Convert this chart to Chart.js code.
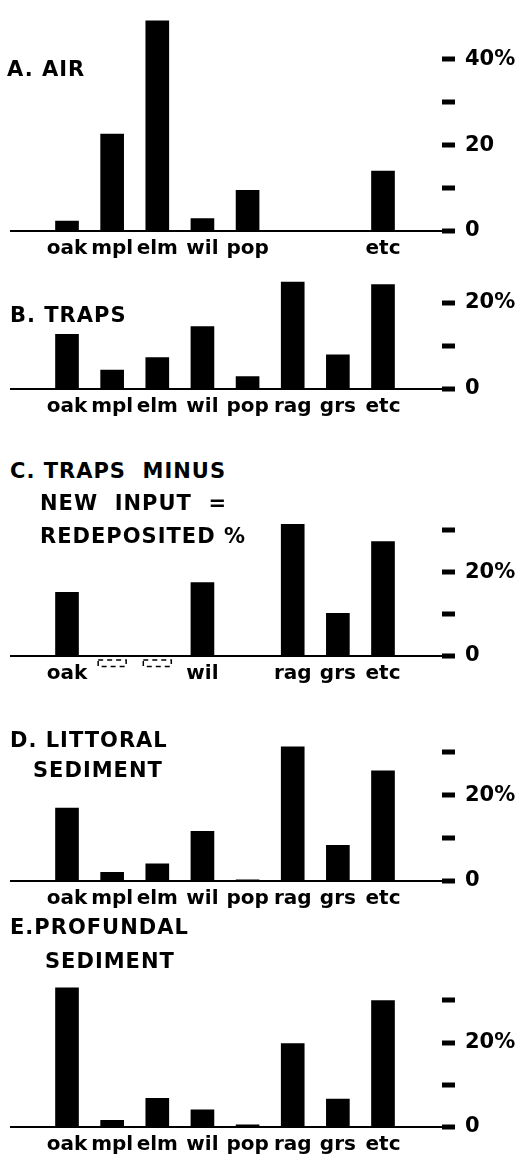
<!DOCTYPE html>
<html>
<head>
<meta charset="utf-8">
<script src="https://cdn.jsdelivr.net/npm/chart.js@4.4.1/dist/chart.umd.min.js"></script>
<style>
  body { margin: 0; background: #fff; }
  #page { position: relative; width: 524px; height: 1156px; overflow: hidden; }
  #page canvas { position: absolute; left: 0; }
  .ttl {
    position: absolute;
    font: bold 21px 'DejaVu Sans', sans-serif;
    line-height: 21px;
    letter-spacing: 1px;
    color: #000;
    white-space: nowrap;
  }
</style>
</head>
<body>
<div id="page">
  <canvas id="chartA"></canvas>
  <canvas id="chartB"></canvas>
  <canvas id="chartC"></canvas>
  <canvas id="chartD"></canvas>
  <canvas id="chartE"></canvas>

  <div class="ttl" style="left:7px;top:59px">A. AIR</div>
  <div class="ttl" style="left:10px;top:305px">B. TRAPS</div>
  <div class="ttl" style="left:10px;top:461px">C. TRAPS&nbsp; MINUS</div>
  <div class="ttl" style="left:40px;top:493px">NEW&nbsp; INPUT&nbsp; =</div>
  <div class="ttl" style="left:40px;top:526px">REDEPOSITED %</div>
  <div class="ttl" style="left:10px;top:730px">D. LITTORAL</div>
  <div class="ttl" style="left:33px;top:760px">SEDIMENT</div>
  <div class="ttl" style="left:10px;top:917px">E.PROFUNDAL</div>
  <div class="ttl" style="left:45px;top:951px">SEDIMENT</div>
</div>

<script>
// Pollen types, same order in every panel
const categories = ['oak', 'mpl', 'elm', 'wil', 'pop', 'rag', 'grs', 'etc'];

// Percentages per panel (null = no bar)
const airValues = [2.3, 22.6, 49, 2.9, 9.5, null, null, 14];
const trapValues = [12.7, 4.4, 7.3, 14.5, 2.9, 24.8, 7.9, 24.2];
const redepositedValues = [15.2, null, null, 17.5, null, 31.4, 10.2, 27.3];
const redepositedDeficit = [null, -2.5, -2.5, null, null, null, null, null];
const littoralValues = [17.0, 2.0, 4.0, 11.6, 0.3, 31.3, 8.3, 25.7];
const profundalValues = [33.0, 1.6, 6.8, 4.1, 0.5, 19.8, 6.6, 30.0];

// Category labels shown under each panel
const airLabels = ['oak', 'mpl', 'elm', 'wil', 'pop', '', '', 'etc'];
const redepositedLabels = ['oak', '', '', 'wil', '', 'rag', 'grs', 'etc'];

// Right-hand axis ticks
const airTicks = [0, 10, 20, 30, 40];
const airTickLabels = ['0', '', '20', '', '40%'];
const trapTicks = [0, 10, 20];
const trapTickLabels = ['0', '', '20%'];
const sedimentTicks = [0, 10, 20, 30];
const sedimentTickLabels = ['0', '', '20%', ''];

// layout
const W = 524;
const PAD_TOP = 16;
const AXIS_H = 36;
const Y_AXIS_W = 82;
const X_MIN = -1.263;
const X_MAX = 8.307;
const FONT = "'DejaVu Sans', sans-serif";

// dashed outline for the negative "deficit" bars in panel C
const dashedBars = {
  id: 'dashedBars',
  afterDatasetsDraw(chart) {
    const ctx = chart.ctx;
    chart.data.datasets.forEach((ds, di) => {
      if (!ds.dashed) return;
      chart.getDatasetMeta(di).data.forEach((el, i) => {
        if (ds.data[i].y == null) return;
        const { x, y, base, width } = el.getProps(['x', 'y', 'base', 'width'], true);
        ctx.save();
        ctx.strokeStyle = '#000';
        ctx.lineWidth = 1.5;
        ctx.setLineDash([5, 4]);
        ctx.strokeRect(x - width / 2, base + 3, width, y - base - 3);
        ctx.restore();
      });
    });
  }
};

function makePanel(id, values, labels, ticks, tickLabels, zero, pxPerUnit, yMax, deficit) {
  const canvas = document.getElementById(id);
  const top = Math.round(zero - pxPerUnit * yMax - PAD_TOP);
  const height = Math.round(zero - top + AXIS_H);
  const padTop = zero - pxPerUnit * yMax - top;
  canvas.width = W;
  canvas.height = height;
  canvas.style.top = top + 'px';

  const datasets = [{
    data: values.map((v, i) => ({ x: i, y: v })),
    backgroundColor: '#000',
    borderWidth: 0,
    barThickness: 23,
    grouped: false
  }];
  if (deficit) {
    datasets.push({
      data: deficit.map((v, i) => ({ x: i, y: v })),
      backgroundColor: 'rgba(0,0,0,0)',
      borderWidth: 0,
      barThickness: 28,
      grouped: false,
      dashed: true
    });
  }

  new Chart(canvas.getContext('2d'), {
    type: 'bar',
    data: { datasets },
    plugins: [dashedBars],
    options: {
      responsive: false,
      devicePixelRatio: 1,
      animation: false,
      events: [],
      layout: { padding: { top: padTop, left: 10, right: 0, bottom: 0 } },
      plugins: { legend: { display: false }, tooltip: { enabled: false } },
      scales: {
        x: {
          type: 'linear',
          min: X_MIN,
          max: X_MAX,
          offset: false,
          afterBuildTicks: s => { s.ticks = categories.map((c, i) => ({ value: i })); },
          afterFit: s => { s.height = AXIS_H; },
          grid: { display: false, drawTicks: false },
          border: { display: false },
          ticks: {
            autoSkip: false,
            maxRotation: 0,
            padding: 6,
            color: '#000',
            font: { family: FONT, size: 20, weight: 'bold' },
            callback: (v, i) => labels[i]
          }
        },
        y: {
          position: 'right',
          min: 0,
          max: yMax,
          afterBuildTicks: s => { s.ticks = ticks.map(v => ({ value: v })); },
          afterFit: s => { s.width = Y_AXIS_W; },
          border: { display: false },
          grid: {
            drawOnChartArea: true,
            color: c => (c.tick && c.tick.value === 0 ? '#000' : 'rgba(0,0,0,0)'),
            lineWidth: 2,
            drawTicks: true,
            tickLength: 13,
            tickWidth: 5,
            tickColor: '#000'
          },
          ticks: {
            padding: 10,
            color: '#000',
            font: { family: FONT, size: 21, weight: 'bold' },
            callback: (v, i) => tickLabels[i]
          }
        }
      }
    }
  });
}

makePanel('chartA', airValues, airLabels, airTicks, airTickLabels, 231, 4.43, 50);
makePanel('chartB', trapValues, categories, trapTicks, trapTickLabels, 389, 4.55, 27);
makePanel('chartC', redepositedValues, redepositedLabels, sedimentTicks, sedimentTickLabels, 656, 4.4, 33, redepositedDeficit);
makePanel('chartD', littoralValues, categories, sedimentTicks, sedimentTickLabels, 881, 4.47, 33);
makePanel('chartE', profundalValues, categories, sedimentTicks, sedimentTickLabels, 1127, 4.4, 34);
</script>
</body>
</html>
